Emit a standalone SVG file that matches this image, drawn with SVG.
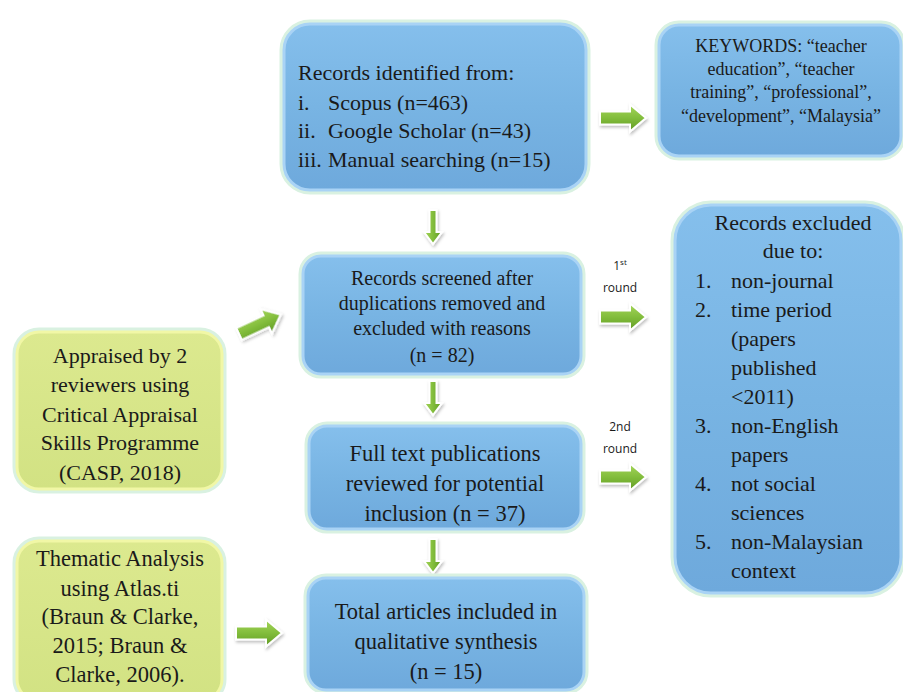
<svg xmlns="http://www.w3.org/2000/svg" width="903" height="692" viewBox="0 0 903 692">
<defs>
<linearGradient id="blueFill" x1="0" y1="0" x2="0" y2="1">
<stop offset="0" stop-color="#85bfec"/>
<stop offset="0.5" stop-color="#78b4e3"/>
<stop offset="1" stop-color="#6ea9dc"/>
</linearGradient>
<linearGradient id="yellowFill" x1="0" y1="0" x2="0" y2="1">
<stop offset="0" stop-color="#dce98f"/>
<stop offset="1" stop-color="#d2e283"/>
</linearGradient>
<linearGradient id="greenH" x1="0" y1="0" x2="0" y2="1">
<stop offset="0" stop-color="#a6d65a"/>
<stop offset="0.5" stop-color="#82bd3c"/>
<stop offset="1" stop-color="#5f9a22"/>
</linearGradient>
<linearGradient id="greenV" x1="0" y1="0" x2="1" y2="0">
<stop offset="0" stop-color="#a6d65a"/>
<stop offset="0.5" stop-color="#82bd3c"/>
<stop offset="1" stop-color="#5f9a22"/>
</linearGradient>
<filter id="shadow" x="-30%" y="-30%" width="160%" height="160%">
<feDropShadow dx="1" dy="2" stdDeviation="1.5" flood-color="#000" flood-opacity="0.25"/>
</filter>
<path id="arrowR" d="M0,-6.5 H30 V-13.5 L46,0 L30,13.5 V6.5 H0 Z"/>
<path id="arrowD" d="M-3.5,0 H3.5 V22 H9 L0,34 L-9,22 H-3.5 Z"/>
</defs>
<style>
.glow{fill:none;stroke:#d9f1e1;stroke-width:9}
.blue{fill:url(#blueFill);stroke:#a9d3f5;stroke-width:3}
.yellow{fill:url(#yellowFill);stroke:#f1f7a6;stroke-width:3}
.t{font-family:"Liberation Serif","DejaVu Serif",serif;fill:#1a1a1a}
.c{text-anchor:middle}
.s{font-family:"Open Sans","Liberation Sans",sans-serif;font-size:12px;fill:#1a1a1a;text-anchor:middle}
.ar{fill:url(#greenH);stroke:#ffffff;stroke-width:2;filter:url(#shadow)}
.ad{fill:url(#greenV);stroke:#ffffff;stroke-width:2;filter:url(#shadow)}
</style>
<rect width="903" height="692" fill="#ffffff"/>

<g id="connectors">
<use href="#arrowD" class="ad" x="433" y="210"/>
<use href="#arrowD" class="ad" x="433" y="381"/>
<use href="#arrowD" class="ad" x="433" y="539"/>
<use href="#arrowR" class="ar" transform="translate(600,118)"/>
<use href="#arrowR" class="ar" transform="translate(600,317)"/>
<use href="#arrowR" class="ar" transform="translate(600,477)"/>
<use href="#arrowR" class="ar" transform="translate(236,633)"/>
<use href="#arrowR" class="ar" transform="translate(239,334) rotate(-25)"/>
<text class="s" x="620" y="270">1<tspan font-size="8" dy="-5">st</tspan></text>
<text class="s" x="620" y="292">round</text>
<text class="s" x="620" y="431">2nd</text>
<text class="s" x="620" y="453">round</text>
</g>

<g id="identified">
<rect class="glow" x="284" y="24" width="302" height="166" rx="26"/>
<rect class="blue" x="284" y="24" width="302" height="166" rx="26"/>
<text class="t" font-size="22" x="298" y="80">Records identified from:</text>
<text class="t" font-size="22" x="298" y="110">i.</text>
<text class="t" font-size="22" x="328" y="110">Scopus (n=463)</text>
<text class="t" font-size="22" x="298" y="138">ii.</text>
<text class="t" font-size="22" x="328" y="138">Google Scholar (n=43)</text>
<text class="t" font-size="22" x="298" y="167">iii.</text>
<text class="t" font-size="22" x="328" y="167">Manual searching (n=15)</text>
</g>

<g id="keywords">
<rect class="glow" x="659" y="25" width="242" height="131" rx="20"/>
<rect class="blue" x="659" y="25" width="242" height="131" rx="20"/>
<text class="t c" font-size="18" x="781" y="52">KEYWORDS: “teacher</text>
<text class="t c" font-size="18" x="781" y="75">education”, “teacher</text>
<text class="t c" font-size="18" x="781" y="98">training”, “professional”,</text>
<text class="t c" font-size="18" x="781" y="122">“development”, “Malaysia”</text>
</g>

<g id="screened">
<rect class="glow" x="303" y="256" width="278" height="118" rx="18"/>
<rect class="blue" x="303" y="256" width="278" height="118" rx="18"/>
<text class="t c" font-size="20" x="442" y="285">Records screened after</text>
<text class="t c" font-size="20" x="442" y="310">duplications removed and</text>
<text class="t c" font-size="20" x="442" y="335">excluded with reasons</text>
<text class="t c" font-size="20" x="442" y="362">(n = 82)</text>
</g>

<g id="excluded">
<rect class="glow" x="675" y="205" width="226" height="388" rx="36"/>
<rect class="blue" x="675" y="205" width="226" height="388" rx="36"/>
<text class="t c" font-size="22" x="793" y="230">Records excluded</text>
<text class="t c" font-size="22" x="793" y="258">due to:</text>
<text class="t" font-size="22" x="695" y="288">1.</text>
<text class="t" font-size="22" x="731" y="288">non-journal</text>
<text class="t" font-size="22" x="695" y="317">2.</text>
<text class="t" font-size="22" x="731" y="317">time period</text>
<text class="t" font-size="22" x="731" y="346">(papers</text>
<text class="t" font-size="22" x="731" y="375">published</text>
<text class="t" font-size="22" x="731" y="404">&lt;2011)</text>
<text class="t" font-size="22" x="695" y="433">3.</text>
<text class="t" font-size="22" x="731" y="433">non-English</text>
<text class="t" font-size="22" x="731" y="462">papers</text>
<text class="t" font-size="22" x="695" y="491">4.</text>
<text class="t" font-size="22" x="731" y="491">not social</text>
<text class="t" font-size="22" x="731" y="520">sciences</text>
<text class="t" font-size="22" x="695" y="549">5.</text>
<text class="t" font-size="22" x="731" y="549">non-Malaysian</text>
<text class="t" font-size="22" x="731" y="578">context</text>
</g>

<g id="appraised">
<rect class="glow" x="17" y="332" width="205" height="157" rx="22"/>
<rect class="yellow" x="17" y="332" width="205" height="157" rx="22"/>
<text class="t c" font-size="22" x="120" y="363">Appraised by 2</text>
<text class="t c" font-size="22" x="120" y="392">reviewers using</text>
<text class="t c" font-size="22" x="120" y="422">Critical Appraisal</text>
<text class="t c" font-size="22" x="120" y="450">Skills Programme</text>
<text class="t c" font-size="22" x="120" y="480">(CASP, 2018)</text>
</g>

<g id="fulltext">
<rect class="glow" x="309" y="426" width="272" height="103" rx="18"/>
<rect class="blue" x="309" y="426" width="272" height="103" rx="18"/>
<text class="t c" font-size="22.5" x="445" y="461">Full text publications</text>
<text class="t c" font-size="22.5" x="445" y="491">reviewed for potential</text>
<text class="t c" font-size="22.5" x="445" y="521">inclusion (n = 37)</text>
</g>

<g id="thematic">
<rect class="glow" x="17" y="541" width="205" height="160" rx="22"/>
<rect class="yellow" x="17" y="541" width="205" height="160" rx="22"/>
<text class="t c" font-size="22.5" x="120" y="566">Thematic Analysis</text>
<text class="t c" font-size="22.5" x="120" y="596">using Atlas.ti</text>
<text class="t c" font-size="22.5" x="120" y="624">(Braun &amp; Clarke,</text>
<text class="t c" font-size="22.5" x="120" y="653">2015; Braun &amp;</text>
<text class="t c" font-size="22.5" x="120" y="682">Clarke, 2006).</text>
</g>

<g id="total">
<rect class="glow" x="308" y="578" width="276" height="112" rx="18"/>
<rect class="blue" x="308" y="578" width="276" height="112" rx="18"/>
<text class="t c" font-size="22.5" x="446" y="619">Total articles included in</text>
<text class="t c" font-size="22.5" x="446" y="649">qualitative synthesis</text>
<text class="t c" font-size="22.5" x="446" y="679">(n = 15)</text>
</g>
</svg>
